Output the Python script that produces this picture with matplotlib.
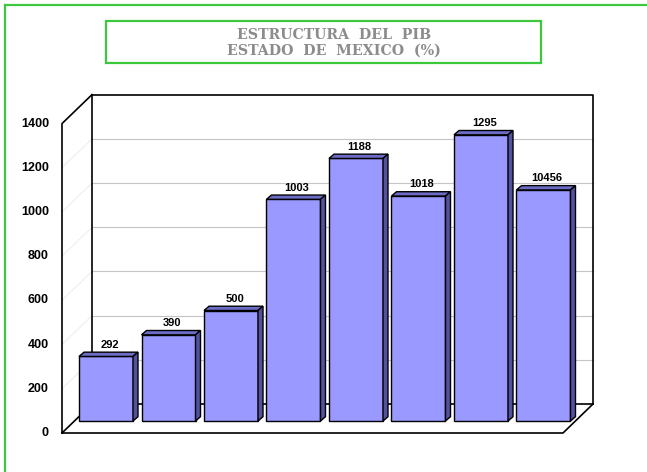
import matplotlib
matplotlib.use("Agg")
import matplotlib.pyplot as plt
from matplotlib.patches import Polygon, Rectangle
from matplotlib.lines import Line2D

# ---- data ----
categories = ["1", "2", "3", "4", "5", "6", "7", "8"]
values = [292, 390, 500, 1003, 1188, 1018, 1295, 1045.6]
value_labels = ["292", "390", "500", "1003", "1188", "1018", "1295", "10456"]
yticks = [0, 200, 400, 600, 800, 1000, 1200, 1400]
title_lines = ["ESTRUCTURA  DEL  PIB", "ESTADO  DE  MEXICO  (%)"]

W, H = 647, 472
fig = plt.figure(figsize=(W / 100, H / 100), dpi=100)
fig.patch.set_facecolor("white")

# pixel mapping used to place the axes scale
PX_X, X0 = 62.5, 106.0     # px per category, px of category 0 centre
PX_Y, Y0 = 0.221, 421.0    # px per unit, px of value 0 (bar plane)
ax = fig.add_axes([0, 0, 1, 1])
ax.set_xlim(-X0 / PX_X, (W - X0) / PX_X)
ax.set_ylim(-(H - Y0) / PX_Y, Y0 / PX_Y)
ax.axis("off")

# 3D geometry (data units)
BW = 54 / PX_X
DDX, DDY = 5 / PX_X, 4.3 / PX_Y           # bar depth
FX, FY = -12.4 / PX_X, -12 / PX_Y         # front plane offset
BX, BY = 17.6 / PX_X, 17 / PX_Y           # back plane offset
n = len(values)
xl_f = (62 - X0) / PX_X
xr_f = (563 - X0) / PX_X
SX = BX - FX
ymax = yticks[-1]

lc = "black"
lw = 1.2
# back wall grid
for v in yticks[1:-1]:
    ax.plot([xl_f + SX, xr_f + SX], [BY + v, BY + v], color="#c4c4c4", lw=0.8, zorder=1)
    ax.plot([xl_f, xl_f + SX], [FY + v, BY + v], color="#ececec", lw=0.7, zorder=1)
# walls outline
ax.plot([xl_f + SX, xr_f + SX, xr_f + SX], [BY + ymax, BY + ymax, BY], color=lc, lw=lw, zorder=2)
ax.plot([xl_f + SX, xl_f + SX], [BY, BY + ymax], color=lc, lw=lw, zorder=2)
ax.plot([xl_f, xl_f, xl_f + SX], [FY, FY + ymax, BY + ymax], color=lc, lw=lw, zorder=2)
# floor
ax.plot([xl_f + SX, xr_f + SX], [BY, BY], color=lc, lw=lw, zorder=2)
ax.plot([xl_f, xl_f + SX], [FY, BY], color=lc, lw=lw, zorder=2)
ax.plot([xl_f, xr_f, xr_f + SX], [FY, FY, BY], color=lc, lw=lw, zorder=2)

# y tick labels
for v in yticks:
    ax.text(xl_f - 13 / PX_X, FY + v, str(v), ha="right", va="center",
            fontsize=9, fontweight="bold", family="Liberation Sans", color="black")

front_c, top_c, side_c = "#9999FF", "#6C6CC6", "#52529E"
for i, (v, lab) in enumerate(zip(values, value_labels)):
    x0 = i - BW / 2
    x1 = i + BW / 2
    ax.add_patch(Rectangle((x0, 0), BW, v, facecolor=front_c, edgecolor="black", lw=1.0, zorder=5))
    ax.add_patch(Polygon([(x0, v), (x1, v), (x1 + DDX, v + DDY), (x0 + DDX, v + DDY)],
                         closed=True, facecolor=top_c, edgecolor="black", lw=1.0, zorder=5))
    ax.add_patch(Polygon([(x1, 0), (x1 + DDX, DDY), (x1 + DDX, v + DDY), (x1, v)],
                         closed=True, facecolor=side_c, edgecolor="black", lw=1.0, zorder=5))
    ax.text(i + DDX / 2 + 1 / PX_X, v + DDY + 2.5 / PX_Y, lab, ha="center", va="bottom",
            fontsize=8, fontweight="bold", family="Liberation Sans", color="black", zorder=6)

# outer green frame (left and top)
green = "#3CC83C"
fig.add_artist(Line2D([5 / W, 5 / W], [0, 1 - 5 / H], transform=fig.transFigure, color=green, lw=1.6))
fig.add_artist(Line2D([5 / W, 1], [1 - 5 / H, 1 - 5 / H], transform=fig.transFigure, color=green, lw=1.6))
# title box
fig.add_artist(Rectangle((106 / W, 1 - 63 / H), (541 - 106) / W, (63 - 21) / H,
                         transform=fig.transFigure, fill=False, edgecolor=green, lw=1.6))
for k, line in enumerate(title_lines):
    fig.text(334 / W, 1 - (35 + 16 * k) / H, line, ha="center", va="center",
             fontsize=10.2, fontweight="bold", family="DejaVu Serif", color="#8c8c8c")

fig.savefig("out.png", dpi=100, facecolor="white")
